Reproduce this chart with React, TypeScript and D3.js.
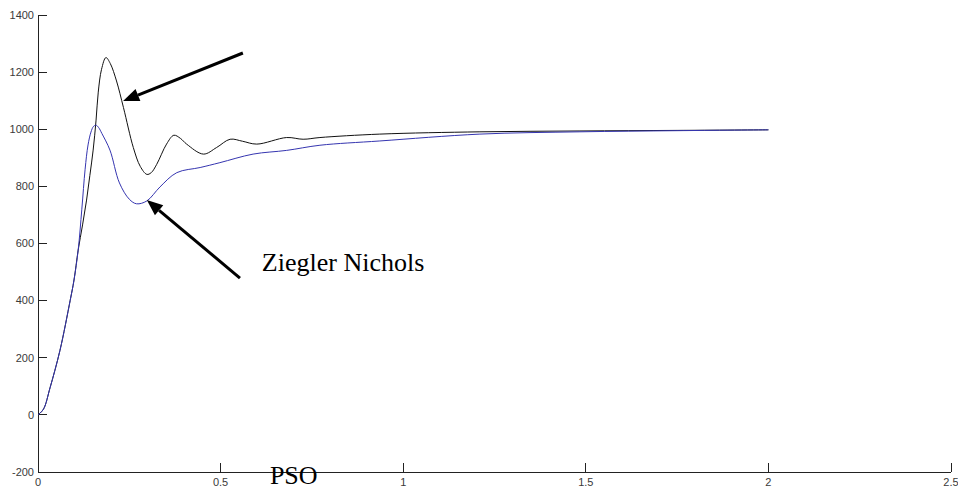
import React, { useRef, useEffect } from 'react';
import * as d3 from 'd3';

// time (s), response
const psoTime = [0, 0.015, 0.033, 0.06, 0.088, 0.0986, 0.11, 0.12, 0.129, 0.137, 0.145, 0.152, 0.159, 0.166, 0.175, 0.197, 0.223, 0.25, 0.27, 0.298, 0.334, 0.38, 0.444, 0.498, 0.589, 0.681, 0.772, 0.936, 1.21, 1.484, 1.75, 2.0];
const psoValues = [0, 20, 95, 225, 400, 472, 577, 720, 860, 945, 990, 1010, 1014, 1006, 985, 927, 812, 755, 739, 749, 798, 848, 866, 883, 913, 926, 944, 959, 983, 991, 995, 998];

const znTime = [0, 0.015, 0.033, 0.06, 0.088, 0.0986, 0.11, 0.122, 0.133, 0.142, 0.151, 0.159, 0.165, 0.174, 0.186, 0.198, 0.215, 0.234, 0.261, 0.28, 0.298, 0.31, 0.325, 0.352, 0.372, 0.39, 0.407, 0.453, 0.489, 0.526, 0.56, 0.599, 0.681, 0.726, 0.772, 0.936, 1.21, 1.484, 1.75, 2.0];
const znValues = [0, 20, 95, 225, 400, 472, 577, 665, 752, 838, 927, 1032, 1130, 1210, 1251, 1230, 1169, 1076, 936, 870, 842, 848, 877, 948, 979, 968, 948, 913, 936, 965, 958, 948, 971, 965, 971, 983, 991, 994, 996, 998];

const xTicks = [0, 0.5, 1, 1.5, 2, 2.5];
const yTicks = [-200, 0, 200, 400, 600, 800, 1000, 1200, 1400];

// annotation arrows: [tailX, tailY, tipX, tipY] in data units
const arrows = [
  [0.561, 1267, 0.233, 1099],
  [0.553, 479, 0.298, 752],
];

const W = 958;
const H = 490;

const App = () => {
  const svgRef = useRef<SVGSVGElement>(null);

  useEffect(() => {
    const svg = d3.select(svgRef.current);
    svg.selectAll('*').remove();

    const x = d3.scaleLinear().domain([0, 2.5]).range([38, 951]);
    const y = d3.scaleLinear().domain([-200, 1400]).range([472, 15]);

    svg.append('rect').attr('width', W).attr('height', H).attr('fill', '#fff');

    // axes
    const ax = svg.append('g').attr('stroke', '#222').attr('stroke-width', 1).attr('shape-rendering', 'crispEdges');
    ax.append('line').attr('x1', x(0)).attr('x2', x(2.5)).attr('y1', y(-200)).attr('y2', y(-200));
    ax.append('line').attr('x1', x(0)).attr('x2', x(0)).attr('y1', y(-200)).attr('y2', y(1400));
    ax.selectAll('.xt').data(xTicks).enter().append('line')
      .attr('x1', d => x(d)).attr('x2', d => x(d))
      .attr('y1', y(-200)).attr('y2', y(-200) - 9);
    ax.selectAll('.yt').data(yTicks).enter().append('line')
      .attr('x1', x(0)).attr('x2', x(0) + 9)
      .attr('y1', d => y(d)).attr('y2', d => y(d));

    const lab = svg.append('g').attr('font-family', 'Liberation Sans, Arial, sans-serif')
      .attr('font-size', 11).attr('fill', '#3a3a3a');
    lab.selectAll('.xl').data(xTicks).enter().append('text')
      .attr('x', d => x(d)).attr('y', y(-200) + 14)
      .attr('text-anchor', 'middle')
      .text(d => String(d));
    lab.selectAll('.yl').data(yTicks).enter().append('text')
      .attr('x', x(0) - 4).attr('y', d => y(d)).attr('dy', '0.35em')
      .attr('text-anchor', 'end')
      .text(d => String(d));

    const line = d3.line<number>()
      .curve(d3.curveCatmullRom.alpha(0.5));

    svg.append('path')
      .attr('d', line.x(d => x(d)).y((d, i) => y(znValues[i]))(znTime))
      .attr('fill', 'none').attr('stroke', '#111').attr('stroke-width', 1);
    svg.append('path')
      .attr('d', line.x(d => x(d)).y((d, i) => y(psoValues[i]))(psoTime))
      .attr('fill', 'none').attr('stroke', '#3535b0').attr('stroke-width', 1);

    // arrows
    arrows.forEach(([tx, ty, hx, hy]) => {
      const x1 = x(tx), y1 = y(ty), x2 = x(hx), y2 = y(hy);
      const ang = Math.atan2(y2 - y1, x2 - x1);
      const len = 16, half = 6.5;
      const bx = x2 - len * Math.cos(ang), by = y2 - len * Math.sin(ang);
      svg.append('line')
        .attr('x1', x1).attr('y1', y1).attr('x2', bx).attr('y2', by)
        .attr('stroke', '#000').attr('stroke-width', 3);
      const px = -Math.sin(ang) * half, py = Math.cos(ang) * half;
      svg.append('path')
        .attr('d', `M${x2},${y2}L${bx + px},${by + py}L${bx - px},${by - py}Z`)
        .attr('fill', '#000');
    });

    svg.append('text')
      .attr('x', x(0.613)).attr('y', y(502))
      .attr('font-family', 'Liberation Serif, Times New Roman, serif')
      .attr('font-size', 26).attr('fill', '#000')
      .text('Ziegler Nichols');
    svg.append('text')
      .attr('x', x(0.635)).attr('y', y(-243))
      .attr('font-family', 'Liberation Serif, Times New Roman, serif')
      .attr('font-size', 26).attr('fill', '#000')
      .text('PSO');
  }, []);

  return (
    <div style={{ position: 'absolute', left: 0, top: 0 }}>
      <svg ref={svgRef} width={W} height={H} style={{ display: 'block' }}></svg>
    </div>
  );
};

export default App;
